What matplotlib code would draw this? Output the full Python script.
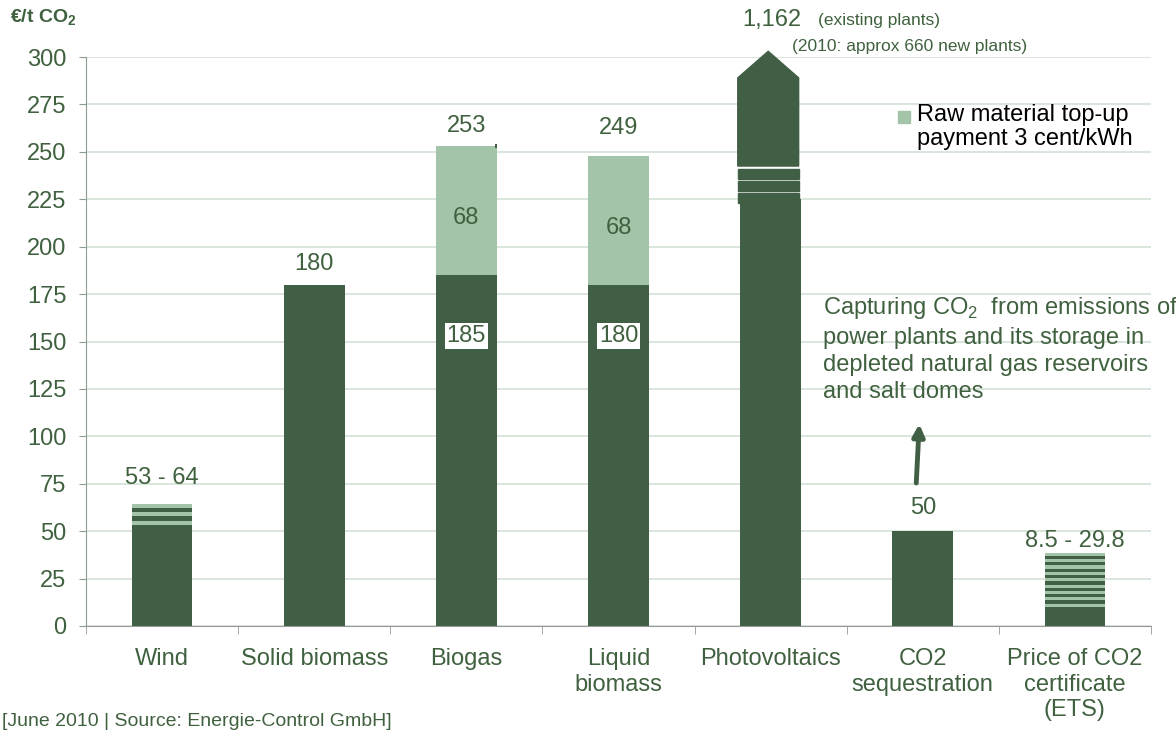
import matplotlib
matplotlib.use('Agg')
import matplotlib.pyplot as plt
from matplotlib.patches import Polygon, Rectangle

plt.rcParams['font.family'] = ['Liberation Sans', 'DejaVu Sans']
plt.rcParams['mathtext.fontset'] = 'custom'
plt.rcParams['mathtext.rm'] = 'Liberation Sans'
plt.rcParams['mathtext.bf'] = 'Liberation Sans:bold'

# data
categories = ['Wind', 'Solid biomass', 'Biogas', 'Liquid\nbiomass', 'Photovoltaics',
              'CO2\nsequestration', 'Price of CO2\ncertificate\n(ETS)']
base = [53, 180, 185, 180, 225, 50, 8.5]
topup = [0, 0, 68, 68, 0, 0, 0]
top_labels = ['53 - 64', '180', '253', '249', None, '50', '8.5 - 29.8']
inner_labels = [None, None, '185', '180', None, None, None]
# striped ranges (low, high, number of light stripes, light stripe at bottom)
stripes = {0: (53.4, 64.3, 3, True), 6: (8.5, 38.6, 9, False)}
# photovoltaics broken bar
pv_segments = [(223, 228.3), (229.5, 234.6), (235.8, 240.8)]
pv_upper = 242.5
pv_shoulder = 289
pv_peak = 303

dark = '#415f44'
light = '#a3c4a8'
txt = '#40613f'
grid = '#d3e0d4'
fs = 17

fig = plt.figure(figsize=(11.76, 7.31), dpi=100)
ax = fig.add_axes([86/1176, 1-626/731, (1151-86)/1176, (626-57)/731])

x = list(range(len(categories)))
w = 0.40
ax.bar(x, base, width=w, color=dark, zorder=2)
ax.bar(x, topup, bottom=base, width=w, color=light, zorder=2)

# little tick on top of biogas
ax.add_patch(Rectangle((2 + w/2 - 0.015, 252), 0.015, 2.2, color=dark, lw=0, zorder=2))

# striped ranges
for i, (lo, hi, n, light_first) in stripes.items():
    ax.bar(i, hi - lo, bottom=lo, width=w, color=dark, zorder=2)
    if light_first:
        h = (hi - lo) / (2*n - 1)
        starts = [lo + 2*k*h for k in range(n)]
    else:
        h = (hi - lo) / (2*n)
        starts = [lo + (2*k + 1)*h for k in range(n)]
    for s in starts:
        ax.bar(i, h, bottom=s, width=w, color=light, zorder=3)

# photovoltaics: broken arrow bar
xs = 4 - 0.016
for lo, hi in pv_segments:
    ax.add_patch(Rectangle((xs - w/2, lo), w, hi - lo, color=dark, zorder=3, clip_on=False))
ax.add_patch(Polygon([(xs - w/2, pv_upper), (xs + w/2, pv_upper), (xs + w/2, pv_shoulder),
                      (xs, pv_peak), (xs - w/2, pv_shoulder)],
                     closed=True, color=dark, zorder=3, clip_on=False))

# value labels
offsets = [26, 21, 20, 28, 0, 23, 12]
for i, lab in enumerate(top_labels):
    if lab is None:
        continue
    top = base[i] + topup[i]
    if i in stripes:
        top = stripes[i][1]
    ax.annotate(lab, xy=(i, top), xytext=(0, offsets[i]*0.72), textcoords='offset points',
                ha='center', va='center', fontsize=fs, color=txt, zorder=5)
for i in x:
    if topup[i]:
        ax.text(i, base[i] + 30, str(topup[i]), ha='center', va='center',
                fontsize=fs, color=txt, zorder=5)
    if inner_labels[i]:
        ax.text(i, 153, inner_labels[i], ha='center', va='center', fontsize=fs,
                color=txt, zorder=5,
                bbox=dict(boxstyle='square,pad=0.08', fc='white', ec='none'))

# photovoltaics note
ax.text(3.813, 319.5, '1,162', ha='left', va='center', fontsize=fs, color=txt, clip_on=False)
ax.text(4.31, 319.5, '(existing plants)', ha='left', va='center', fontsize=12.5, color=txt, clip_on=False)
ax.text(4.14, 305.5, '(2010: approx 660 new plants)', ha='left', va='center', fontsize=12.5,
        color=txt, clip_on=False)

# CO2 sequestration note
ax.text(4.345, 146, 'Capturing CO$_2$  from emissions of\npower plants and its storage in\n'
        'depleted natural gas reservoirs\nand salt domes',
        ha='left', va='center', fontsize=fs, color=txt, linespacing=1.3)
ax.annotate('', xy=(4.977, 106.5), xytext=(4.957, 75.4),
            arrowprops=dict(arrowstyle='-|>,head_width=0.35,head_length=0.7',
                            lw=3.5, color=dark, shrinkA=0, shrinkB=0))

# legend
fig.patches.append(Rectangle((898/1176, 1-123/731), 12/1176, 12/731, color=light,
                             transform=fig.transFigure))
fig.text(917/1176, 1-127/731, 'Raw material top-up\npayment 3 cent/kWh', ha='left',
         va='center', fontsize=fs, color='black', linespacing=1.1)

# axes styling
ax.set_xlim(-0.5, len(categories) - 0.5)
ax.set_ylim(0, 300)
ax.set_yticks(range(0, 301, 25))
ax.set_xticks(x)
ax.set_xticklabels(categories)
ax.set_xticks([i - 0.5 for i in range(len(categories) + 1)], minor=True)
ax.tick_params(axis='x', which='major', length=0, pad=16, labelsize=fs, labelcolor=txt)
ax.tick_params(axis='x', which='minor', length=6, color='#999999', direction='out')
ax.tick_params(axis='y', length=5, color='#8c9c8e', pad=9, labelsize=fs, labelcolor=txt)
ax.yaxis.grid(True, color=grid, lw=1.2, zorder=0)
ax.set_axisbelow(True)
for s in ['top', 'right']:
    ax.spines[s].set_visible(False)
ax.spines['left'].set_color('#8c9c8e')
ax.spines['bottom'].set_color('#999999')

fig.text(10/1176, 1-18/731, r'€/t CO$_\mathbf{2}$', ha='left', va='center', fontsize=14,
         fontweight='bold', color=txt)
fig.text(2/1176, 1-721/731, '[June 2010 | Source: Energie-Control GmbH]', ha='left',
         va='center', fontsize=14, color=txt)

fig.savefig('out.png', dpi=100)
